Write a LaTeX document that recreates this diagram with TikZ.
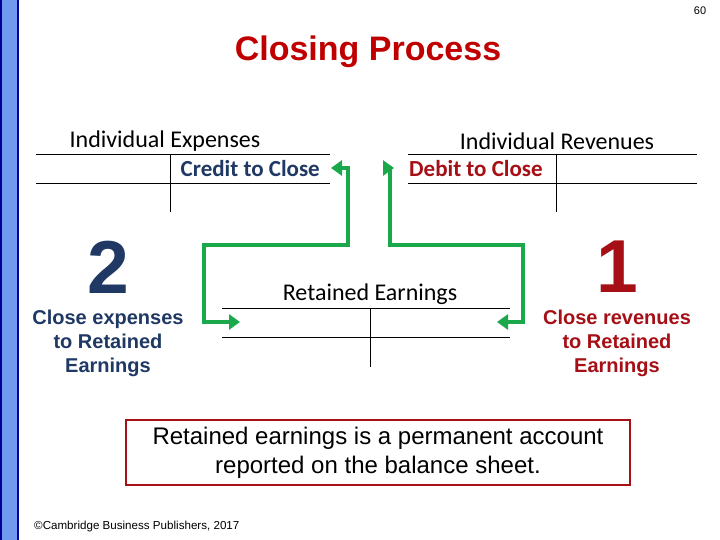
\documentclass[tikz,border=0pt]{standalone}
\usepackage{fontspec}
\setmainfont{Liberation Sans}
\newfontfamily\calfont{Carlito}
\usetikzlibrary{arrows.meta}
\definecolor{dblue}{HTML}{1F3864}
\definecolor{dred}{HTML}{A50F15}
\definecolor{tred}{HTML}{C00000}
\definecolor{grn}{HTML}{1BA84A}
\definecolor{bar}{HTML}{7099F0}
\tikzset{tl/.style={line width=0.8pt},
 ga/.style={grn,line width=3.5pt,{Triangle[length=11pt,width=15pt]}-{Triangle[length=11pt,width=15pt]}},
 cal/.style={font=\calfont\fontsize{24}{26}\selectfont,inner sep=0pt},
 calb/.style={font=\calfont\bfseries\fontsize{23}{26}\selectfont,inner sep=0pt},
 sub/.style={font=\bfseries\fontsize{20}{24}\selectfont,align=center,inner sep=0pt},
 big/.style={font=\bfseries\fontsize{75}{75}\selectfont,inner sep=0pt}}
\begin{document}
\begin{tikzpicture}[x=1pt,y=-1pt]
\useasboundingbox (0,0) rectangle (720,540);
\fill[white] (0,0) rectangle (720,540);
\fill[bar,draw=blue!60!black,line width=2pt] (1,-2) rectangle (18,542);
\node[font=\fontsize{11}{12}\selectfont] (pg) at (700,11) {60};
\node[font=\bfseries\fontsize{34}{38}\selectfont,text=tred] (title) at (368,52) {Closing Process};
% expenses T
\draw[tl] (36,154) -- (330,154) (36,183) -- (330,183) (170,154) -- (170,212);
\node[cal] (ie) at (165,141) {Individual Expenses};
\node[calb,text=dblue,anchor=east] (cc) at (320,169) {Credit to Close};
% revenues T
\draw[tl] (408,154) -- (697,154) (408,183) -- (697,183) (556,154) -- (556,212);
\node[cal] (ir) at (557,141) {Individual Revenues};
\node[calb,text=dred,anchor=west] (dc) at (409,169) {Debit to Close};
% retained T
\draw[tl] (222,308) -- (510,308) (222,337) -- (510,337) (370,308) -- (370,367);
\node[cal] (re) at (370,294) {Retained Earnings};
\coordinate (l1) at (331,168); \coordinate (l2) at (240,322);
\coordinate (r1) at (394,168); \coordinate (r2) at (497,322);
\draw[ga] (l1) -- (348,168) -- (348,245) -- (204,245) -- (204,322) -- (l2);
\draw[ga] (r1) -- (390,168) -- (390,245) -- (523,245) -- (523,322) -- (r2);
\node[big,text=dblue] (two) at (108,267) {2};
\node[big,text=dred] (one) at (617,267) {1};
\node[sub,text=dblue] (ce) at (108,343) {Close expenses\\to Retained\\Earnings};
\node[sub,text=dred] (cr) at (617,343) {Close revenues\\to Retained\\Earnings};
\node[draw=dred,line width=1.5pt,minimum width=504pt,minimum height=65pt,align=center,
 font=\fontsize{24}{29}\selectfont] (box) at (378,452.5) {Retained earnings is a permanent account\\reported on the balance sheet.};
\node[anchor=west,font=\fontsize{11.6}{13}\selectfont,inner sep=0pt] (cp) at (34,526) {©Cambridge Business Publishers, 2017};
\end{tikzpicture}
\end{document}
